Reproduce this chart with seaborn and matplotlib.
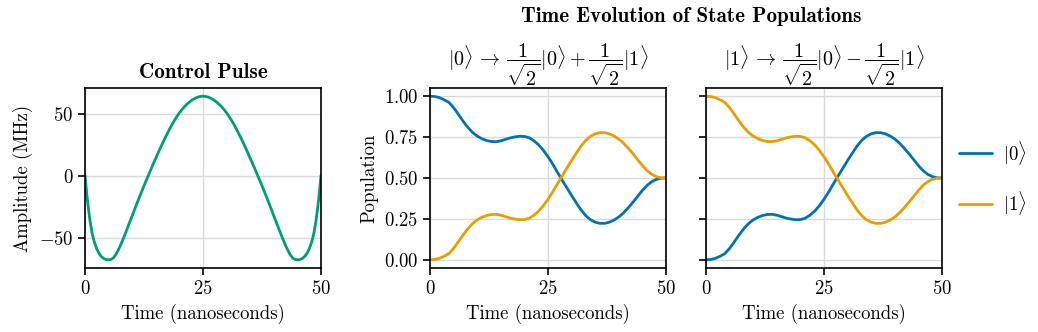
import matplotlib
matplotlib.use("Agg")
import matplotlib.pyplot as plt
import seaborn as sns
import pandas as pd

pulse_t = [i / 2 for i in range(101)]
pulse_mhz = [0, -19.5, -35, -46.5, -54, -59.3, -63, -65.5, -67, -67.8,
             -68, -67.7, -66.5, -64, -60.5, -56.5, -52, -47.2, -42.3, -37.4,
             -32.5, -27.5, -22.5, -17.7, -13, -8.3, -3.7, 0.8, 5.3, 9.7,
             14, 18.3, 22.5, 26.6, 30.5, 34.3, 38, 41.6, 44.8, 47.8,
             50.5, 53, 55.2, 57.2, 58.9, 60.4, 61.6, 62.6, 63.4, 63.8,
             64,
             63.8, 63.4, 62.6, 61.6, 60.4, 58.9, 57.2, 55.2, 53, 50.5,
             47.8, 44.8, 41.6, 38, 34.3, 30.5, 26.6, 22.5, 18.3, 14,
             9.7, 5.3, 0.8, -3.7, -8.3, -13, -17.7, -22.5, -27.5, -32.5,
             -37.4, -42.3, -47.2, -52, -56.5, -60.5, -64, -66.5, -67.7, -68,
             -67.8, -67, -65.5, -63, -59.3, -54, -46.5, -35, -19.5, 0]

# populations, sampled every 1 ns
time_ns = list(range(51))
pop0_from0 = [1.000, 0.998, 0.991, 0.978, 0.962, 0.930, 0.890, 0.848, 0.810, 0.779,
              0.756, 0.740, 0.729, 0.723, 0.722, 0.727, 0.736, 0.745, 0.751, 0.755,
              0.754, 0.746, 0.728, 0.703, 0.670, 0.630, 0.585, 0.535, 0.487, 0.440,
              0.393, 0.348, 0.305, 0.270, 0.245, 0.230, 0.223, 0.223, 0.230, 0.243,
              0.262, 0.287, 0.318, 0.352, 0.388, 0.424, 0.455, 0.478, 0.492, 0.499, 0.500]
pop1_from0 = [0.000, 0.002, 0.009, 0.022, 0.038, 0.070, 0.110, 0.152, 0.190, 0.221,
              0.244, 0.260, 0.271, 0.277, 0.278, 0.273, 0.264, 0.255, 0.249, 0.245,
              0.246, 0.254, 0.272, 0.297, 0.330, 0.370, 0.415, 0.465, 0.513, 0.560,
              0.607, 0.652, 0.695, 0.730, 0.755, 0.770, 0.777, 0.777, 0.770, 0.757,
              0.738, 0.713, 0.682, 0.648, 0.612, 0.576, 0.545, 0.522, 0.508, 0.501, 0.500]

# starting in |1> the two curves swap
pop0_from1 = pop1_from0
pop1_from1 = pop0_from0

sns.set_theme(style="ticks")
plt.rcParams.update({
    "font.family": "serif",
    "font.serif": ["cmr10"],
    "mathtext.fontset": "cm",
    "axes.formatter.use_mathtext": True,
    "font.size": 13.5,
    "axes.titlesize": 13.5,
    "axes.labelsize": 13.5,
    "xtick.labelsize": 13.5,
    "ytick.labelsize": 13.5,
    "legend.fontsize": 13.5,
    "text.color": "black",
    "axes.labelcolor": "black",
    "axes.edgecolor": "black",
    "axes.linewidth": 1.2,
    "xtick.major.width": 1.2,
    "ytick.major.width": 1.2,
    "xtick.major.size": 5,
    "ytick.major.size": 5,
    "xtick.color": "black",
    "ytick.color": "black",
})

blue, orange, green = "#0072B2", "#E69F00", "#009E73"

fig = plt.figure(figsize=(10.38, 3.32), dpi=100)
W, H = 1038, 332
def box(x0, x1, y0, y1):
    return [x0 / W, 1 - y1 / H, (x1 - x0) / W, (y1 - y0) / H]

ax_p = fig.add_axes(box(85, 321, 88, 268))
ax_a = fig.add_axes(box(430, 666, 88, 268))
ax_b = fig.add_axes(box(706, 942, 88, 268), sharey=ax_a)

pulse = pd.DataFrame({"t": pulse_t, "amp": pulse_mhz})
pops = pd.DataFrame({"t": time_ns,
                     "p0a": pop0_from0, "p1a": pop1_from0,
                     "p0b": pop0_from1, "p1b": pop1_from1})

sns.lineplot(data=pulse, x="t", y="amp", ax=ax_p, color=green, lw=2)
ax_p.set_title("Control Pulse", fontfamily="cmb10", fontsize=15.2, pad=7)
ax_p.set_ylabel("Amplitude (MHz)")

sns.lineplot(data=pops, x="t", y="p0a", ax=ax_a, color=blue, lw=2)
sns.lineplot(data=pops, x="t", y="p1a", ax=ax_a, color=orange, lw=2)
ax_a.set_title(r"$|0\rangle \,\rightarrow\, \dfrac{1}{\sqrt{2}}|0\rangle + \dfrac{1}{\sqrt{2}}|1\rangle$",
               fontsize=14.5, pad=4)
ax_a.set_ylabel("Population")

sns.lineplot(data=pops, x="t", y="p0b", ax=ax_b, color=blue, lw=2, label=r"$|0\rangle$")
sns.lineplot(data=pops, x="t", y="p1b", ax=ax_b, color=orange, lw=2, label=r"$|1\rangle$")
ax_b.set_title(r"$|1\rangle \,\rightarrow\, \dfrac{1}{\sqrt{2}}|0\rangle - \dfrac{1}{\sqrt{2}}|1\rangle$",
               fontsize=14.5, pad=4)
ax_b.set_ylabel("")
ax_b.tick_params(labelleft=False)
ax_b.legend(loc="center left", bbox_to_anchor=(1.0, 0.5), frameon=False,
            handlelength=1.75, handletextpad=0.6, labelspacing=1.2)

ax_a.set_yticks([0, 0.25, 0.5, 0.75, 1.0])
ax_a.set_ylim(-0.05, 1.05)

for ax in (ax_p, ax_a, ax_b):
    ax.set_xlim(0, 50)
    ax.set_xticks([0, 25, 50])
    ax.set_xlabel("Time (nanoseconds)")
    ax.grid(True, color="0.85", lw=1.0)
    for s in ax.spines.values():
        s.set_visible(True)

fig.text(691 / W, 1 - 16 / H, "Time Evolution of State Populations",
         ha="center", va="center", fontfamily="cmb10", fontsize=15.2)

fig.savefig("out.png", dpi=100)
